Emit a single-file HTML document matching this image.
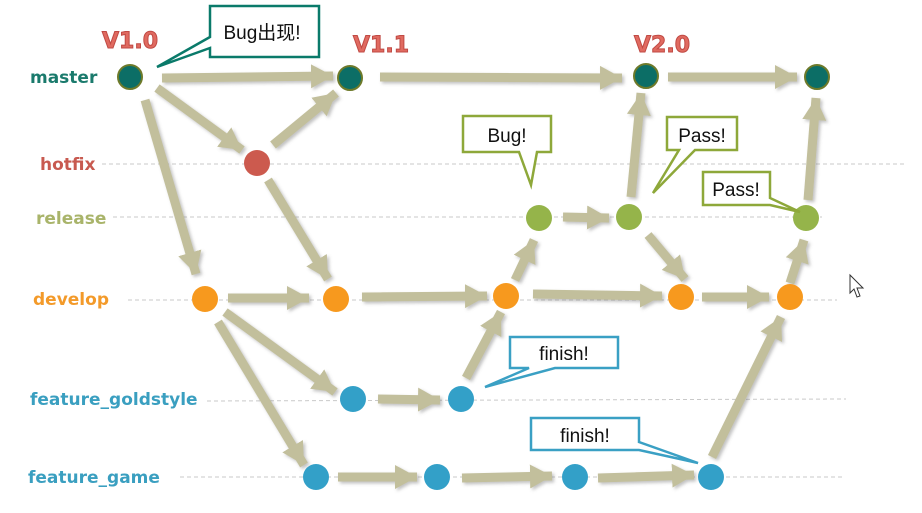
<!DOCTYPE html>
<html><head><meta charset="utf-8"><style>
html,body{margin:0;padding:0;background:#fff;width:922px;height:513px;overflow:hidden}
svg{display:block}
.lbl{font-family:"DejaVu Sans","Liberation Sans",sans-serif;font-weight:900;font-size:17px}
.ver{font-family:"DejaVu Sans","Liberation Sans",sans-serif;font-weight:bold;font-size:22px;fill:#e06a60;stroke:#c04a44;stroke-width:1}
.cl{font-family:"Liberation Sans","Noto Sans CJK SC",sans-serif;font-size:19px;fill:#111;text-anchor:middle}
</style></head><body>
<svg width="922" height="513" viewBox="0 0 922 513" xmlns="http://www.w3.org/2000/svg">
<defs>
<marker id="a" markerUnits="userSpaceOnUse" markerWidth="24" markerHeight="26" refX="22" refY="13" orient="auto">
<path d="M0,1 L22,13 L0,25 z" fill="#c2bf9c"/>
</marker>
<filter id="sh" x="-10%" y="-10%" width="130%" height="130%"><feDropShadow dx="2" dy="2" stdDeviation="1.5" flood-color="#777" flood-opacity="0.45"/></filter>
</defs>
<g stroke="#c9c9c9" stroke-width="1" stroke-dasharray="4,3">
<line x1="102" y1="164" x2="905" y2="164"/>
<line x1="113" y1="217" x2="822" y2="217"/>
<line x1="128" y1="300" x2="837" y2="300"/>
<line x1="207" y1="401" x2="846" y2="399"/>
<line x1="180" y1="477" x2="843" y2="477"/>
</g>
<text class="lbl" x="30" y="83" fill="#1a7a6c">master</text>
<text class="lbl" x="40" y="170" fill="#c85a50">hotfix</text>
<text class="lbl" x="36" y="224" fill="#a9b46a">release</text>
<text class="lbl" x="33" y="305" fill="#f39a2a">develop</text>
<text class="lbl" x="30" y="405" fill="#3a9fc0">feature_goldstyle</text>
<text class="lbl" x="28" y="483" fill="#3a9fc0">feature_game</text>
<text class="ver" x="102" y="48">V1.0</text>
<text class="ver" x="353" y="52">V1.1</text>
<text class="ver" x="634" y="52">V2.0</text>
<g stroke="#c2bf9c" stroke-width="9" marker-end="url(#a)" filter="url(#sh)">
<line x1="162" y1="78" x2="333" y2="76"/>
<line x1="157" y1="88" x2="242" y2="150"/>
<line x1="145" y1="100" x2="196" y2="274"/>
<line x1="273" y1="145" x2="336" y2="93"/>
<line x1="268" y1="180" x2="328" y2="279"/>
<line x1="380" y1="77" x2="622" y2="78"/>
<line x1="668" y1="77" x2="797" y2="77"/>
<line x1="228" y1="298" x2="309" y2="298"/>
<line x1="362" y1="297" x2="487" y2="296"/>
<line x1="533" y1="294" x2="662" y2="296"/>
<line x1="702" y1="297" x2="769" y2="297"/>
<line x1="225" y1="312" x2="335" y2="392"/>
<line x1="218" y1="322" x2="304" y2="465"/>
<line x1="378" y1="399" x2="440" y2="400"/>
<line x1="466" y1="378" x2="501" y2="312"/>
<line x1="515" y1="280" x2="534" y2="240"/>
<line x1="563" y1="217" x2="609" y2="218"/>
<line x1="631" y1="197" x2="641" y2="93"/>
<line x1="648" y1="235" x2="685" y2="279"/>
<line x1="808" y1="200" x2="816" y2="98"/>
<line x1="790" y1="283" x2="804" y2="240"/>
<line x1="338" y1="477" x2="417" y2="477"/>
<line x1="462" y1="478" x2="552" y2="476"/>
<line x1="598" y1="478" x2="694" y2="475"/>
<line x1="712" y1="457" x2="781" y2="317"/>
</g>
<g stroke="#6e7a2a" stroke-width="2" fill="#0c6e66">
<circle cx="130" cy="77" r="12"/><circle cx="350" cy="78" r="12"/><circle cx="646" cy="76" r="12"/><circle cx="817" cy="77" r="12"/>
</g>
<circle cx="257" cy="163" r="13" fill="#cc5a4e"/>
<g fill="#95b44a"><circle cx="539" cy="218" r="13"/><circle cx="629" cy="217" r="13"/><circle cx="806" cy="218" r="13"/></g>
<g fill="#f7991e"><circle cx="205" cy="299" r="13"/><circle cx="336" cy="299" r="13"/><circle cx="506" cy="296" r="13"/><circle cx="681" cy="297" r="13"/><circle cx="790" cy="297" r="13"/></g>
<g fill="#33a0c8"><circle cx="353" cy="399" r="13"/><circle cx="461" cy="399" r="13"/><circle cx="316" cy="477" r="13"/><circle cx="437" cy="477" r="13"/><circle cx="575" cy="477" r="13"/><circle cx="711" cy="477" r="13"/></g>
<path d="M210,6 H319 V57 H210 V48 L157,67 L210,37 Z" fill="#fff" stroke="#0a7a6a" stroke-width="2.5"/>
<text class="cl" x="262" y="39">Bug出现!</text>
<path d="M463,116 H551 V152 H537 L531,185 L519,152 H463 Z" fill="#fff" stroke="#8ea83a" stroke-width="2.5"/>
<text class="cl" x="507" y="142">Bug!</text>
<path d="M667,117 H737 V150 H695 L653,193 L679,150 H667 Z" fill="#fff" stroke="#8ea83a" stroke-width="2.5"/>
<text class="cl" x="702" y="142">Pass!</text>
<path d="M703,172 H770 V198 L800,212 L770,205 H703 Z" fill="#fff" stroke="#8ea83a" stroke-width="2.5"/>
<text class="cl" x="736" y="196">Pass!</text>
<path d="M510,337 H618 V368 H555 L485,387 L529,368 H510 Z" fill="#fff" stroke="#3aa0c4" stroke-width="2.5"/>
<text class="cl" x="564" y="360">finish!</text>
<path d="M531,418 H639 V442 L698,463 L639,450 H531 Z" fill="#fff" stroke="#3aa0c4" stroke-width="2.5"/>
<text class="cl" x="585" y="442">finish!</text>
<path d="M850,275 L850,293 L854,289 L857,297 L860,296 L857,288 L863,288 Z" fill="#fff" stroke="#333" stroke-width="1"/>
</svg>
</body></html>
